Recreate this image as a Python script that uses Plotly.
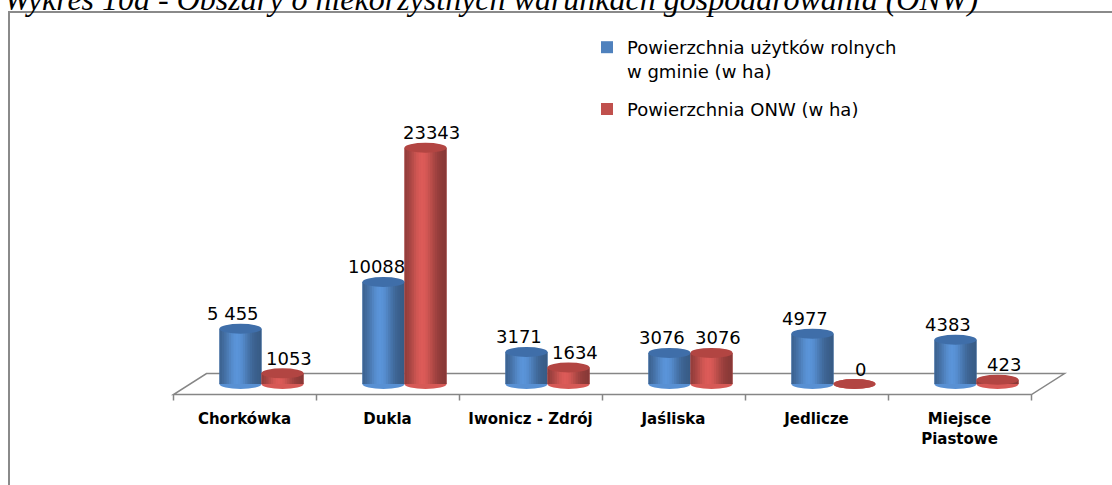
import math
import plotly.graph_objects as go

# ---------------- data ----------------
categories = ["Chorkówka", "Dukla", "Iwonicz - Zdrój", "Jaśliska", "Jedlicze", "Miejsce<br>Piastowe"]
agri_area = [5455, 10088, 3171, 3076, 4977, 4383]
onw_area = [1053, 23343, 1634, 3076, 0, 423]
agri_labels = ["5 455", "10088", "3171", "3076", "4977", "4383"]
onw_labels = ["1053", "23343", "1634", "3076", "0", "423"]
series_names = ["Powierzchnia użytków rolnych<br>w gminie (w ha)", "Powierzchnia ONW (w ha)"]
title_text = "Wykres 10a - Obszary o niekorzystnych warunkach gospodarowania (ONW)"

# ---------------- layout constants ----------------
W, H = 1112, 485
ML, MR, MT, MB = 190, 64, 40, 85
PLOT_W = W - ML - MR
PLOT_H = H - MT - MB
Y_RANGE = [-1580, 34000]
BAR_W = 0.294
N_STRIPS = 18
CAP_PX = 5.0
RY = CAP_PX * (Y_RANGE[1] - Y_RANGE[0]) / PLOT_H

def px_x(px):
    return (px - ML) / PLOT_W

def px_y(py):
    return (MT + PLOT_H - py) / PLOT_H

zero_px = MT + PLOT_H - (0 - Y_RANGE[0]) / (Y_RANGE[1] - Y_RANGE[0]) * PLOT_H
FLOOR_DX, FLOOR_DY = 16.5, 10.5

styles = [
    dict(base=(79, 129, 189), cap="#3f6ea9", offset=-BAR_W, xshift=-7),
    dict(base=(192, 80, 77), cap="#b24542", offset=0.0, xshift=6),
]

def shade(rgb, t):
    f = 0.70 + 0.45 * math.exp(-((t - 0.42) / 0.30) ** 2)
    return "rgb(%d,%d,%d)" % tuple(min(255, int(c * f)) for c in rgb)

xs = list(range(len(categories)))
fig = go.Figure()
shapes = []
annotations = []

for values, labels, name, st in zip([agri_area, onw_area], [agri_labels, onw_labels], series_names, styles):
    base_col = "rgb(%d,%d,%d)" % st["base"]
    grp = name
    fig.add_trace(go.Bar(
        x=xs, y=values, width=BAR_W, offset=st["offset"], name=name,
        marker=dict(color=base_col, line=dict(width=0)), legendgroup=grp,
        showlegend=True, hoverinfo="skip"))
    sw = BAR_W / N_STRIPS
    for i in range(N_STRIPS):
        start = st["offset"] + i * sw
        width = min(sw * 1.35, st["offset"] + BAR_W - start)
        fig.add_trace(go.Bar(
            x=xs, y=values, width=width, offset=start,
            marker=dict(color=shade(st["base"], (i + 0.5) / N_STRIPS), line=dict(width=0)),
            legendgroup=grp, showlegend=False, hoverinfo="skip"))
    for xi, v, lab in zip(xs, values, labels):
        x0 = xi + st["offset"]
        x1 = x0 + BAR_W
        shapes.append(dict(type="circle", xref="x", yref="y", x0=x0, x1=x1, y0=-RY, y1=RY,
                           fillcolor=shade(st["base"], 0.5), line=dict(width=0), layer="below"))
        shapes.append(dict(type="circle", xref="x", yref="y", x0=x0, x1=x1, y0=v - RY, y1=v + RY,
                           fillcolor=st["cap"], line=dict(width=0), layer="above"))
        annotations.append(dict(x=(x0 + x1) / 2, y=v, xref="x", yref="y", text=lab, showarrow=False,
                                yanchor="middle", yshift=15, xshift=st["xshift"],
                                font=dict(family="DejaVu Sans", size=18, color="#000000")))

# floor (3D base)
left_px, right_px = ML, ML + PLOT_W
fl, fr = left_px - FLOOR_DX, right_px - FLOOR_DX
bl, br = left_px + FLOOR_DX, right_px + FLOOR_DX
fy, by = zero_px + FLOOR_DY, zero_px - FLOOR_DY
path = "M %f,%f L %f,%f L %f,%f L %f,%f Z" % (
    px_x(bl), px_y(by), px_x(br), px_y(by), px_x(fr), px_y(fy), px_x(fl), px_y(fy))
shapes.insert(0, dict(type="path", xref="paper", yref="paper", path=path,
                      line=dict(color="#868686", width=1.5), fillcolor="rgba(0,0,0,0)", layer="below"))
step = PLOT_W / len(categories)
for k in range(len(categories) + 1):
    tx = fl + k * step
    shapes.append(dict(type="line", xref="paper", yref="paper", x0=px_x(tx), x1=px_x(tx),
                       y0=px_y(fy), y1=px_y(fy + 6), line=dict(color="#868686", width=1.5), layer="below"))

# outer frame (left and top edges only are visible)
frame_path = "M %f,%f L %f,%f L %f,%f" % (px_x(9), px_y(H + 5), px_x(9), px_y(12), px_x(W + 5), px_y(12))
shapes.append(dict(type="path", xref="paper", yref="paper", path=frame_path,
                   line=dict(color="#8a8a8a", width=2), layer="below"))

# clipped title
annotations.append(dict(x=px_x(2), y=px_y(-1), xref="paper", yref="paper", text=title_text,
                        showarrow=False, xanchor="left", yanchor="middle",
                        font=dict(family="Liberation Serif", size=32, color="#000000", style="italic")))

fig.update_layout(
    width=W, height=H,
    margin=dict(l=ML, r=MR, t=MT, b=MB),
    paper_bgcolor="white", plot_bgcolor="rgba(0,0,0,0)",
    barmode="overlay",
    shapes=shapes, annotations=annotations,
    xaxis=dict(range=[-0.5, len(categories) - 0.5], tickvals=xs, ticktext=categories,
               showgrid=False, zeroline=False, showline=False, ticks="",
               ticklabelshift=-17, ticklabelstandoff=8,
               tickfont=dict(family="DejaVu Sans", size=15, color="#000000", weight="bold")),
    yaxis=dict(range=Y_RANGE, visible=False),
    legend=dict(x=px_x(587), y=px_y(29), xanchor="left", yanchor="top", valign="top",
                font=dict(family="DejaVu Sans", size=18, color="#000000"),
                tracegroupgap=12, bgcolor="rgba(0,0,0,0)"),
    showlegend=True,
)

fig.write_html("out.html", config={"displayModeBar": False},
               post_script="document.body.style.margin='0';document.body.style.overflow='hidden';")
